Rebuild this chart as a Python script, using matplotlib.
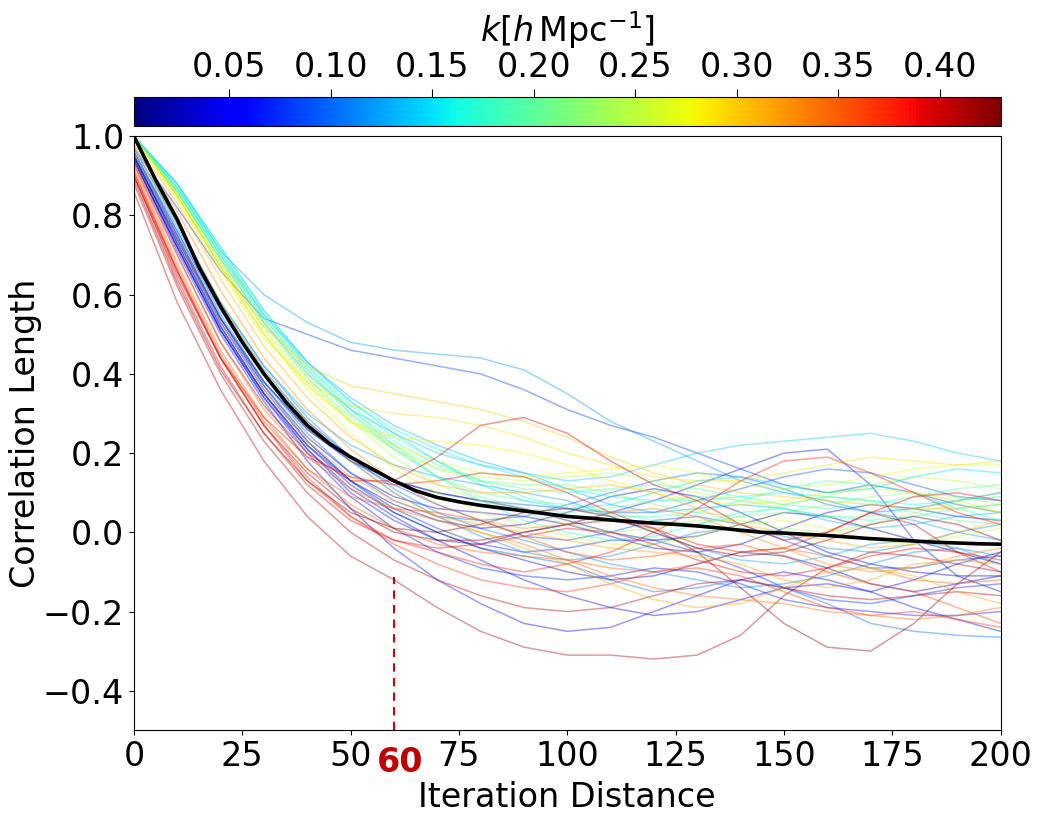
#%%############################################################################
# Correlation length vs iteration distance, one curve per k bin plus the mean.
###############################################################################
import numpy as np
import matplotlib
matplotlib.use('Agg')
import matplotlib.pyplot as plt
from matplotlib.colors import Normalize
from matplotlib.cm import ScalarMappable

#%%############################################################################
# Data (values at iteration distance 0, 10, ..., 200).
###############################################################################
iterDist = [0, 10, 20, 30, 40, 50, 60, 70, 80, 90, 100,
            110, 120, 130, 140, 150, 160, 170, 180, 190, 200]

# mean curve, read every 5 steps
meanDist = [0, 5, 10, 15, 20, 25, 30, 35, 40, 45, 50, 55, 60, 65, 70, 75, 80,
            85, 90, 95, 100, 105, 110, 115, 120, 125, 130, 135, 140, 145, 150,
            155, 160, 165, 170, 175, 180, 185, 190, 195, 200]
meanCorr = [1.0, 0.89, 0.79, 0.67, 0.57, 0.48, 0.40, 0.33, 0.27, 0.225, 0.19,
            0.16, 0.13, 0.105, 0.088, 0.077, 0.068, 0.061, 0.054, 0.047, 0.04,
            0.036, 0.031, 0.027, 0.023, 0.02, 0.016, 0.011, 0.005, 0.0, -0.002,
            -0.005, -0.008, -0.012, -0.016, -0.019, -0.022, -0.025, -0.027, -0.029, -0.03]

# low k (blue / purple)
kBlue = [0.12, 0.08, 0.06, 0.10, 0.05, 0.02, 0.04, 0.07, 0.09, 0.11,
         0.065, 0.01, 0.10, 0.125, 0.045, 0.085, 0.13, 0.115, 0.03]
corrBlue = [
    [1.0, 0.88, 0.71, 0.60, 0.53, 0.48, 0.46, 0.45, 0.44, 0.41, 0.35, 0.28, 0.23, 0.18, 0.13, 0.10, 0.08, 0.05, 0.03, 0.00, -0.02],
    [0.97, 0.82, 0.66, 0.54, 0.50, 0.46, 0.44, 0.42, 0.40, 0.36, 0.31, 0.27, 0.24, 0.20, 0.16, 0.12, 0.10, 0.12, 0.10, 0.07, 0.05],
    [0.95, 0.73, 0.52, 0.35, 0.21, 0.10, 0.03, -0.02, -0.03, 0.00, 0.02, 0.05, 0.08, 0.12, 0.16, 0.20, 0.21, 0.12, -0.02, -0.11, -0.15],
    [0.95, 0.74, 0.53, 0.37, 0.23, 0.13, 0.05, 0.00, -0.04, -0.06, -0.08, -0.12, -0.15, -0.14, -0.12, -0.14, -0.18, -0.23, -0.25, -0.26, -0.265],
    [0.94, 0.71, 0.50, 0.33, 0.18, 0.06, -0.04, -0.12, -0.18, -0.23, -0.25, -0.24, -0.20, -0.16, -0.12, -0.10, -0.12, -0.15, -0.12, -0.08, -0.05],
    [0.95, 0.73, 0.52, 0.35, 0.22, 0.12, 0.05, 0.00, -0.04, -0.07, -0.10, -0.12, -0.11, -0.08, -0.05, -0.06, -0.09, -0.13, -0.15, -0.13, -0.11],
    [0.96, 0.75, 0.54, 0.37, 0.24, 0.15, 0.09, 0.06, 0.05, 0.04, 0.02, -0.01, -0.04, -0.05, -0.03, 0.01, 0.05, 0.07, 0.06, 0.04, 0.03],
    [0.95, 0.74, 0.53, 0.36, 0.23, 0.13, 0.06, 0.01, -0.03, -0.05, -0.04, -0.02, -0.02, -0.05, -0.09, -0.14, -0.17, -0.18, -0.16, -0.14, -0.13],
    [0.96, 0.76, 0.56, 0.40, 0.28, 0.19, 0.13, 0.10, 0.08, 0.07, 0.06, 0.05, 0.05, 0.08, 0.11, 0.14, 0.16, 0.15, 0.12, 0.09, 0.08],
    [0.97, 0.78, 0.58, 0.42, 0.29, 0.19, 0.11, 0.05, 0.01, -0.02, -0.05, -0.08, -0.10, -0.12, -0.14, -0.13, -0.11, -0.08, -0.05, -0.04, -0.06],
    [0.94, 0.72, 0.51, 0.34, 0.20, 0.09, 0.01, -0.05, -0.09, -0.11, -0.12, -0.11, -0.09, -0.10, -0.13, -0.17, -0.19, -0.20, -0.21, -0.21, -0.20],
    [0.95, 0.74, 0.54, 0.38, 0.26, 0.18, 0.13, 0.10, 0.08, 0.06, 0.03, 0.00, -0.02, -0.01, 0.02, 0.05, 0.04, 0.01, -0.02, -0.05, -0.08],
    [0.96, 0.76, 0.55, 0.38, 0.25, 0.15, 0.08, 0.04, 0.03, 0.04, 0.07, 0.10, 0.13, 0.15, 0.14, 0.11, 0.07, 0.05, 0.06, 0.08, 0.10],
    [0.97, 0.78, 0.58, 0.42, 0.30, 0.22, 0.17, 0.14, 0.12, 0.10, 0.08, 0.04, 0.00, -0.04, -0.07, -0.08, -0.06, -0.03, -0.02, -0.04, -0.08],
    [0.94, 0.72, 0.51, 0.34, 0.21, 0.11, 0.04, -0.02, -0.07, -0.12, -0.16, -0.19, -0.21, -0.20, -0.17, -0.14, -0.13, -0.15, -0.19, -0.22, -0.25],
    [0.95, 0.75, 0.54, 0.38, 0.26, 0.18, 0.12, 0.07, 0.03, -0.01, -0.02, 0.00, 0.03, 0.04, 0.02, -0.02, -0.06, -0.09, -0.09, -0.07, -0.06],
    [1.0, 0.87, 0.70, 0.55, 0.43, 0.34, 0.27, 0.22, 0.18, 0.15, 0.11, 0.07, 0.05, 0.06, 0.07, 0.06, 0.03, 0.01, 0.02, 0.04, 0.05],
    [0.96, 0.77, 0.57, 0.41, 0.28, 0.18, 0.10, 0.04, -0.01, -0.05, -0.07, -0.06, -0.03, 0.00, 0.01, -0.01, -0.04, -0.05, -0.03, 0.00, 0.02],
    [0.94, 0.72, 0.51, 0.35, 0.22, 0.13, 0.07, 0.03, 0.01, 0.02, 0.05, 0.09, 0.11, 0.09, 0.05, 0.00, -0.05, -0.08, -0.10, -0.11, -0.11],
]

# middle k (cyan / green / yellow)
kGreen = [0.14, 0.16, 0.19, 0.22, 0.25, 0.27, 0.29, 0.18, 0.21, 0.24,
          0.28, 0.20, 0.15, 0.26, 0.30, 0.17]
corrGreen = [
    [1.0, 0.86, 0.69, 0.53, 0.40, 0.31, 0.25, 0.20, 0.17, 0.15, 0.13, 0.14, 0.17, 0.20, 0.22, 0.23, 0.24, 0.25, 0.23, 0.20, 0.18],
    [1.0, 0.88, 0.72, 0.56, 0.43, 0.33, 0.26, 0.21, 0.17, 0.14, 0.11, 0.09, 0.08, 0.08, 0.09, 0.10, 0.09, 0.08, 0.07, 0.08, 0.09],
    [1.0, 0.87, 0.70, 0.54, 0.41, 0.31, 0.23, 0.17, 0.13, 0.11, 0.10, 0.11, 0.12, 0.11, 0.09, 0.07, 0.06, 0.07, 0.09, 0.11, 0.12],
    [1.0, 0.86, 0.69, 0.53, 0.40, 0.30, 0.22, 0.16, 0.13, 0.12, 0.12, 0.10, 0.07, 0.05, 0.04, 0.05, 0.07, 0.09, 0.10, 0.09, 0.07],
    [1.0, 0.86, 0.68, 0.51, 0.38, 0.28, 0.21, 0.16, 0.14, 0.13, 0.14, 0.15, 0.13, 0.10, 0.08, 0.07, 0.09, 0.12, 0.14, 0.13, 0.11],
    [1.0, 0.85, 0.67, 0.50, 0.37, 0.28, 0.22, 0.18, 0.15, 0.14, 0.15, 0.16, 0.17, 0.15, 0.12, 0.11, 0.12, 0.14, 0.16, 0.17, 0.17],
    [1.0, 0.84, 0.66, 0.49, 0.38, 0.32, 0.30, 0.29, 0.27, 0.24, 0.20, 0.17, 0.14, 0.13, 0.13, 0.15, 0.17, 0.19, 0.18, 0.17, 0.18],
    [1.0, 0.87, 0.71, 0.55, 0.42, 0.32, 0.24, 0.18, 0.13, 0.09, 0.06, 0.04, 0.04, 0.05, 0.08, 0.11, 0.13, 0.12, 0.10, 0.06, 0.03],
    [1.0, 0.86, 0.69, 0.53, 0.39, 0.29, 0.21, 0.14, 0.09, 0.06, 0.05, 0.06, 0.08, 0.09, 0.08, 0.06, 0.04, 0.04, 0.06, 0.08, 0.10],
    [1.0, 0.85, 0.68, 0.52, 0.39, 0.28, 0.19, 0.12, 0.08, 0.05, 0.02, 0.00, 0.01, 0.03, 0.03, 0.01, 0.00, 0.02, 0.05, 0.07, 0.05],
    [1.0, 0.85, 0.67, 0.50, 0.37, 0.28, 0.24, 0.23, 0.22, 0.20, 0.17, 0.13, 0.10, 0.08, 0.07, 0.08, 0.10, 0.11, 0.10, 0.08, 0.05],
    [1.0, 0.86, 0.70, 0.54, 0.41, 0.30, 0.21, 0.14, 0.10, 0.08, 0.07, 0.05, 0.03, 0.02, 0.04, 0.07, 0.09, 0.08, 0.05, 0.03, 0.02],
    [1.0, 0.88, 0.72, 0.56, 0.43, 0.33, 0.25, 0.18, 0.12, 0.08, 0.06, 0.07, 0.10, 0.13, 0.14, 0.12, 0.10, 0.11, 0.14, 0.16, 0.15],
    [1.0, 0.85, 0.67, 0.50, 0.36, 0.25, 0.16, 0.10, 0.05, 0.02, -0.01, -0.03, -0.03, -0.01, 0.02, 0.03, 0.01, -0.02, -0.03, -0.01, 0.01],
    [1.0, 0.85, 0.67, 0.52, 0.42, 0.37, 0.35, 0.33, 0.31, 0.28, 0.24, 0.19, 0.15, 0.12, 0.10, 0.09, 0.08, 0.07, 0.06, 0.06, 0.07],
    [1.0, 0.87, 0.71, 0.55, 0.42, 0.31, 0.22, 0.14, 0.08, 0.03, 0.00, -0.02, -0.01, 0.02, 0.05, 0.06, 0.04, 0.03, 0.04, 0.06, 0.07],
]

# high k (orange / red)
kRed = [0.40, 0.38, 0.41, 0.42, 0.35, 0.37, 0.39, 0.425, 0.34, 0.36,
        0.405, 0.32, 0.385, 0.31, 0.33, 0.315]
corrRed = [
    [0.93, 0.70, 0.48, 0.32, 0.20, 0.13, 0.13, 0.19, 0.27, 0.29, 0.25, 0.18, 0.12, 0.08, 0.02, -0.02, 0.00, 0.05, 0.02, -0.05, -0.10],
    [0.90, 0.66, 0.44, 0.27, 0.13, 0.04, -0.02, -0.05, -0.08, -0.10, -0.08, -0.05, 0.00, 0.06, 0.13, 0.18, 0.19, 0.15, 0.10, 0.05, 0.02],
    [0.86, 0.58, 0.36, 0.18, 0.04, -0.06, -0.12, -0.19, -0.25, -0.29, -0.31, -0.31, -0.32, -0.31, -0.26, -0.16, -0.09, -0.05, -0.06, -0.08, -0.10],
    [0.90, 0.65, 0.44, 0.27, 0.15, 0.06, 0.00, -0.02, -0.02, 0.00, 0.02, 0.03, 0.01, -0.05, -0.14, -0.23, -0.29, -0.30, -0.23, -0.13, -0.05],
    [0.93, 0.68, 0.46, 0.29, 0.16, 0.07, 0.01, -0.03, -0.05, -0.06, -0.07, -0.09, -0.10, -0.08, -0.05, -0.04, -0.06, -0.09, -0.12, -0.13, -0.12],
    [0.91, 0.66, 0.44, 0.27, 0.14, 0.04, -0.03, -0.08, -0.12, -0.14, -0.15, -0.13, -0.10, -0.09, -0.11, -0.15, -0.19, -0.21, -0.20, -0.22, -0.24],
    [0.90, 0.64, 0.42, 0.25, 0.12, 0.03, -0.02, -0.04, -0.03, -0.01, 0.01, 0.00, -0.03, -0.07, -0.10, -0.11, -0.09, -0.06, -0.04, -0.05, -0.07],
    [0.89, 0.63, 0.41, 0.25, 0.13, 0.05, 0.01, 0.00, 0.02, 0.05, 0.06, 0.04, 0.00, -0.04, -0.06, -0.05, -0.02, 0.02, 0.04, 0.02, -0.02],
    [0.94, 0.70, 0.48, 0.31, 0.19, 0.11, 0.06, 0.03, 0.00, -0.03, -0.07, -0.11, -0.14, -0.16, -0.17, -0.18, -0.20, -0.21, -0.22, -0.21, -0.19],
    [0.92, 0.67, 0.45, 0.28, 0.16, 0.09, 0.06, 0.05, 0.03, -0.01, -0.05, -0.07, -0.06, -0.04, -0.03, -0.06, -0.10, -0.13, -0.15, -0.19, -0.23],
    [0.88, 0.62, 0.40, 0.23, 0.10, 0.00, -0.07, -0.12, -0.16, -0.19, -0.20, -0.19, -0.16, -0.13, -0.12, -0.14, -0.16, -0.17, -0.16, -0.15, -0.16],
    [0.96, 0.74, 0.53, 0.36, 0.23, 0.14, 0.08, 0.04, 0.02, 0.00, -0.02, -0.04, -0.05, -0.06, -0.08, -0.12, -0.14, -0.12, -0.08, -0.07, -0.08],
    [0.91, 0.66, 0.44, 0.29, 0.19, 0.14, 0.12, 0.13, 0.15, 0.14, 0.10, 0.05, 0.01, -0.03, -0.05, -0.04, 0.00, 0.05, 0.09, 0.10, 0.08],
    [0.99, 0.83, 0.64, 0.47, 0.34, 0.24, 0.17, 0.12, 0.10, 0.10, 0.11, 0.12, 0.10, 0.06, 0.02, 0.00, -0.02, -0.04, -0.03, 0.00, 0.03],
    [0.98, 0.81, 0.61, 0.44, 0.31, 0.21, 0.13, 0.07, 0.03, 0.01, 0.02, 0.05, 0.06, 0.04, 0.00, -0.04, -0.08, -0.10, -0.09, -0.06, -0.04],
    [0.97, 0.78, 0.58, 0.41, 0.28, 0.18, 0.10, 0.04, 0.00, -0.04, -0.08, -0.13, -0.17, -0.19, -0.18, -0.14, -0.10, -0.09, -0.11, -0.15, -0.18],
]

kMin, kMax = 0.003, 0.43
markDist = 60
markCorrTop = -0.113

#%%############################################################################
# Plot.
###############################################################################
fig = plt.figure(figsize=(10.38, 8.16), dpi=100)
ax = fig.add_axes([0.129, 0.105, 0.835, 0.728])
cax = fig.add_axes([0.129, 0.8456, 0.835, 0.0355])

cmap = plt.get_cmap('jet')
norm = Normalize(vmin=kMin, vmax=kMax)

for kList, curveList in [(kBlue, corrBlue), (kGreen, corrGreen), (kRed, corrRed)]:
    for k, corr in zip(kList, curveList):
        ax.plot(iterDist, corr, color=cmap(norm(k)), alpha=0.4, lw=1.1)

ax.plot(meanDist, meanCorr, color='black', lw=2.6)

# marker at iteration distance 60
ax.plot([markDist, markDist], [-0.5, markCorrTop], color='#cc0000', lw=1.5, dashes=(4, 3))
ax.text(markDist + 1.5, -0.026, '60', transform=ax.get_xaxis_transform(),
        ha='center', va='top', color='#c00000', fontsize=24, fontweight='bold')

ax.set_xlim(0, 200)
ax.set_ylim(-0.5, 1.0)
ax.set_xticks([0, 25, 50, 75, 100, 125, 150, 175, 200])
ax.set_yticks([-0.4, -0.2, 0.0, 0.2, 0.4, 0.6, 0.8, 1.0])
ax.tick_params(labelsize=24)
ax.set_xlabel('Iteration Distance', fontsize=24, labelpad=6)
ax.set_ylabel('Correlation Length', fontsize=24)
ax.yaxis.set_label_coords(-0.106, 0.5)

sm = ScalarMappable(norm=norm, cmap=cmap)
cbar = fig.colorbar(sm, cax=cax, orientation='horizontal')
cbar.set_ticks([0.05, 0.10, 0.15, 0.20, 0.25, 0.30, 0.35, 0.40])
cax.xaxis.set_ticks_position('top')
cax.xaxis.set_label_position('top')
cax.tick_params(labelsize=24, length=6)
cbar.set_label(r'$k[h\,\mathrm{Mpc}^{-1}]$', fontsize=24, labelpad=6)

fig.savefig('out.png', dpi=100)
